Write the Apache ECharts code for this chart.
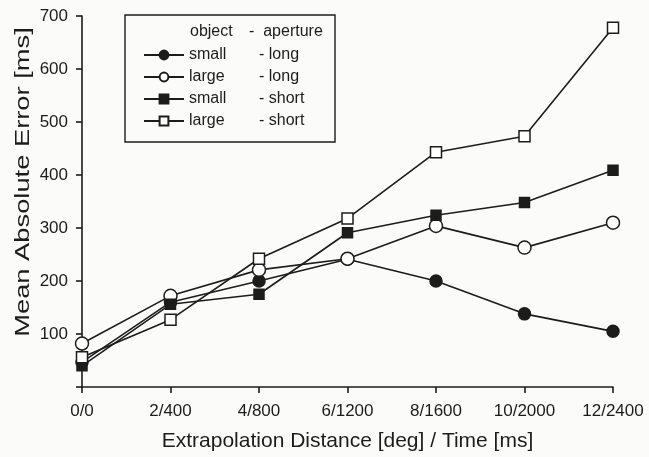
<!DOCTYPE html>
<html>
<head>
<meta charset="utf-8">
<script src="https://cdn.jsdelivr.net/npm/echarts@6/dist/echarts.min.js"></script>
<style>
  html, body { margin: 0; padding: 0; background: #fbfbfa; }
  #chart { width: 649px; height: 457px; }
</style>
</head>
<body>
<div id="chart"></div>
<script>
// categorias del eje x
const distances = ['0/0', '2/400', '4/800', '6/1200', '8/1600', '10/2000', '12/2400'];

// valores (ms)
const smallLong  = [47, 160, 200, 241, 200, 138, 105];
const largeLong  = [82, 172, 221, 242, 304, 263, 310];
const smallShort = [40, 156, 175, 291, 324, 348, 409];
const largeShort = [56, 127, 242, 318, 443, 473, 678];

const yTicks = { min: 0, max: 700, step: 100 };

const ink = '#1c1c1c';
const font = 'Liberation Sans, Arial, Helvetica, sans-serif';

function makeSeries(name, data, symbol, filled, size) {
  return {
    name: name,
    type: 'line',
    data: data,
    symbol: symbol,
    symbolSize: size,
    showAllSymbol: true,
    lineStyle: { color: ink, width: 1.6 },
    itemStyle: { color: filled ? ink : '#ffffff', borderColor: ink, borderWidth: 1.5 },
    emphasis: { disabled: true },
    animation: false
  };
}

const chart = echarts.init(document.getElementById('chart'));

const option = {
  backgroundColor: '#fbfbfa',
  animation: false,
  grid: { left: 82, right: 36, top: 16, bottom: 69 },
  xAxis: {
    type: 'category',
    data: distances,
    boundaryGap: false,
    name: 'Extrapolation Distance [deg] / Time [ms]',
    nameLocation: 'middle',
    nameGap: 44,
    nameTextStyle: { fontFamily: font, fontSize: 21, color: ink },
    axisLine: { lineStyle: { color: ink, width: 1.6 } },
    axisTick: { alignWithLabel: true, length: 6, lineStyle: { color: ink, width: 1.6 } },
    axisLabel: { fontFamily: font, fontSize: 17, color: ink, margin: 16 },
    splitLine: { show: false }
  },
  yAxis: {
    type: 'value',
    min: yTicks.min,
    max: yTicks.max,
    interval: yTicks.step,
    axisLine: { show: true, lineStyle: { color: ink, width: 1.6 } },
    axisTick: { show: true, length: 6, lineStyle: { color: ink, width: 1.6 } },
    axisLabel: {
      fontFamily: font, fontSize: 17, color: ink, margin: 14,
      formatter: v => (v === 0 ? '' : v)
    },
    splitLine: { show: false }
  },
  legend: {
    left: 143,
    top: 47,
    padding: 0,
    orient: 'vertical',
    itemWidth: 40,
    itemHeight: 11,
    itemGap: 6,
    selectedMode: false,
    textStyle: {
      fontFamily: font, fontSize: 16, color: ink, lineHeight: 16,
      rich: {
        a: { width: 70, fontFamily: font, fontSize: 16, color: ink, lineHeight: 16 },
        b: { fontFamily: font, fontSize: 16, color: ink, lineHeight: 16 }
      }
    },
    formatter: name => {
      const parts = name.split(' - ');
      return '{a|' + parts[0] + '}{b|- ' + parts[1] + '}';
    }
  },
  graphic: [
    {
      type: 'rect',
      shape: { x: 125, y: 15, width: 210, height: 127 },
      style: { fill: '#fbfbfa', stroke: ink, lineWidth: 1.4 },
      z: 0
    },
    {
      type: 'text',
      x: 190,
      y: 32,
      style: { text: 'object', font: '16px ' + font, fill: ink, verticalAlign: 'middle' },
      z: 5
    },
    {
      type: 'text',
      x: 249,
      y: 32,
      style: { text: '-  aperture', font: '16px ' + font, fill: ink, verticalAlign: 'middle' },
      z: 5
    },
    {
      // titulo del eje y, estirado como en la figura escaneada
      type: 'text',
      x: 23,
      y: 182,
      rotation: Math.PI / 2,
      scaleX: 1.3,
      style: {
        text: 'Mean Absolute Error [ms]', font: '21px ' + font, fill: ink,
        align: 'center', verticalAlign: 'middle'
      },
      z: 5
    }
  ],
  series: [
    makeSeries('small - long', smallLong, 'circle', true, 12),
    makeSeries('large - long', largeLong, 'circle', false, 13),
    makeSeries('small - short', smallShort, 'rect', true, 10),
    makeSeries('large - short', largeShort, 'rect', false, 11)
  ]
};

chart.setOption(option);
</script>
</body>
</html>
